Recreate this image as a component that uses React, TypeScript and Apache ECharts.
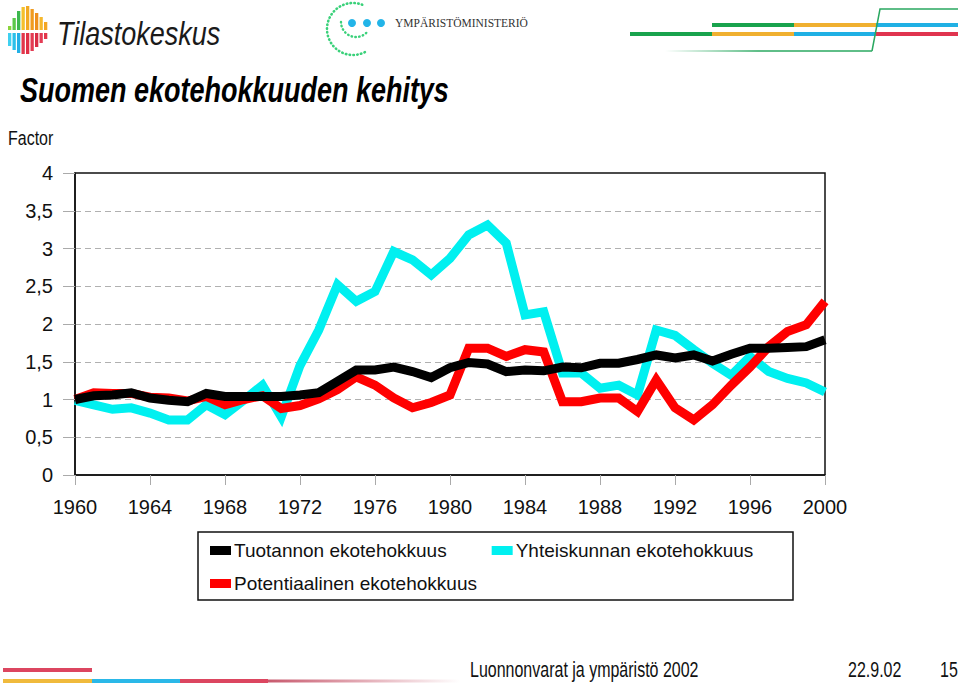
import React, { useEffect, useRef } from "react";
import * as echarts from "echarts";

const years: string[] = [];
for (let y = 1960; y <= 2000; y++) years.push(String(y));

const tuotannon = [
  1.0, 1.05, 1.06, 1.09, 1.02, 0.99, 0.97, 1.08, 1.04, 1.04,
  1.04, 1.04, 1.06, 1.09, 1.24, 1.39, 1.39, 1.43, 1.37, 1.29,
  1.42, 1.49, 1.47, 1.37, 1.39, 1.38, 1.43, 1.42, 1.48, 1.48,
  1.53, 1.59, 1.55, 1.59, 1.51, 1.6, 1.68, 1.68, 1.69, 1.7, 1.79,
];
const yhteiskunnan = [
  0.99, 0.93, 0.87, 0.89, 0.82, 0.73, 0.73, 0.93, 0.8, 0.99,
  1.19, 0.77, 1.45, 1.92, 2.52, 2.3, 2.43, 2.96, 2.85, 2.65,
  2.87, 3.18, 3.31, 3.07, 2.12, 2.16, 1.35, 1.35, 1.15, 1.19,
  1.06, 1.92, 1.85, 1.66, 1.48, 1.32, 1.57, 1.37, 1.28, 1.22, 1.1,
];
const potentiaalinen = [
  1.0, 1.09, 1.08, 1.08, 1.03, 1.02, 0.98, 1.04, 0.93, 1.0,
  1.05, 0.88, 0.92, 1.01, 1.13, 1.3, 1.19, 1.02, 0.89, 0.96,
  1.06, 1.68, 1.68, 1.57, 1.66, 1.63, 0.97, 0.97, 1.02, 1.02,
  0.84, 1.26, 0.89, 0.73, 0.93, 1.19, 1.43, 1.7, 1.9, 1.99, 2.3,
];

const names = [
  "Tuotannon ekotehokkuus",
  "Yhteiskunnan ekotehokkuus",
  "Potentiaalinen ekotehokkuus",
];
const colors = ["#000000", "#00f0f0", "#ff0000"];

const FONT = "'Liberation Sans', Arial, sans-serif";

function logoBars() {
  const xs = [8, 12.5, 17, 21.5, 26, 30.5, 35, 39.5, 44];
  const tops = [26, 18, 11, 7, 6, 9, 13, 17, 22];
  const bots = [46, 50, 53, 54, 54, 51, 47, 43, 39];
  const topCol = ["#8ad43c", "#5cc84a", "#3db84f", "#f4c02c", "#f2a922", "#f09b20", "#ee8f1e", "#f5b82d", "#f4a623"];
  const botCol = ["#3fd0f0", "#2bc0ea", "#22b0e6", "#e2364b", "#e02f46", "#e33b52", "#d92d45", "#e43c55", "#e2364b"];
  const els: any[] = [];
  xs.forEach((x, i) => {
    els.push({ type: "rect", shape: { x, y: tops[i], width: 3.3, height: 30 - tops[i] }, style: { fill: topCol[i] } });
    els.push({ type: "rect", shape: { x, y: 33, width: 3.3, height: bots[i] - 33 }, style: { fill: botCol[i] } });
  });
  return els;
}

export default function App() {
  const ref = useRef<HTMLDivElement>(null);
  useEffect(() => {
    if (!ref.current) return;
    const chart = echarts.init(ref.current, null, { renderer: "svg" });
    const seriesOrder = [1, 2, 0];
    const dataMap = [tuotannon, yhteiskunnan, potentiaalinen];
    const legendText = { fontSize: 19, color: "#111", fontFamily: FONT, padding: [0, 0, 0, -2] };
    chart.setOption({
      animation: false,
      backgroundColor: "#ffffff",
      grid: {
        left: 75,
        right: 135,
        top: 173,
        bottom: 211,
        show: true,
        borderColor: "#111",
        borderWidth: 1.5,
        backgroundColor: "transparent",
      },
      xAxis: {
        type: "category",
        data: years,
        boundaryGap: false,
        axisLine: { show: true, lineStyle: { color: "#111", width: 1.5 } },
        axisTick: { show: true, interval: 3, length: 10, lineStyle: { color: "#aaa", width: 1 } },
        axisLabel: { interval: 3, fontSize: 20, color: "#111", fontFamily: FONT, margin: 22 },
        splitLine: { show: false },
      },
      yAxis: {
        type: "value",
        min: 0,
        max: 4,
        interval: 0.5,
        axisLine: { show: true, lineStyle: { color: "#111", width: 1.5 } },
        axisTick: { show: true, length: 12, inside: false, lineStyle: { color: "#aaa", width: 1 } },
        axisLabel: {
          fontSize: 20,
          color: "#111",
          fontFamily: FONT,
          margin: 22,
          formatter: (v: number) => String(v).replace(".", ","),
        },
        splitLine: {
          show: true,
          showMinLine: false,
          showMaxLine: false,
          lineStyle: { color: "#b0b0b0", type: [6, 4], width: 1 },
        },
      },
      legend: [
        {
          data: [names[0], names[1]],
          left: 205,
          top: 536,
          itemWidth: 21,
          itemHeight: 9,
          itemGap: 45,
          icon: "rect",
          selectedMode: false,
          textStyle: legendText,
        },
        {
          data: [names[2]],
          left: 205,
          top: 569,
          itemWidth: 21,
          itemHeight: 9,
          icon: "rect",
          selectedMode: false,
          textStyle: legendText,
        },
      ],
      series: seriesOrder.map((i) => ({
        name: names[i],
        type: "line",
        data: dataMap[i],
        symbol: "none",
        z: 2 + seriesOrder.indexOf(i),
        lineStyle: { color: colors[i], width: 9, join: "miter" },
        itemStyle: { color: colors[i] },
      })),
      graphic: [
        ...logoBars(),
        {
          type: "text",
          x: 57,
          y: 33,
          scaleY: 1.25,
          style: {
            text: "Tilastokeskus",
            font: `italic 27px ${FONT}`,
            fill: "#1a1a1a",
            verticalAlign: "middle",
          },
        },
        {
          type: "arc",
          shape: { cx: 353, cy: 29, r: 26, startAngle: -Math.PI / 2.6, endAngle: Math.PI / 3.2, clockwise: false },
          style: { stroke: "#3ad17a", lineWidth: 2.6, lineDash: [0.5, 3.3], lineCap: "round", fill: "none" },
        },
        {
          type: "arc",
          shape: { cx: 356, cy: 22, r: 15, startAngle: Math.PI, endAngle: Math.PI / 5, clockwise: false },
          style: { stroke: "#3ad17a", lineWidth: 2.4, lineDash: [0.5, 3.3], lineCap: "round", fill: "none" },
        },
        { type: "circle", shape: { cx: 352, cy: 23, r: 4 }, style: { fill: "#22b4e8" } },
        { type: "circle", shape: { cx: 367, cy: 23, r: 4 }, style: { fill: "#22b4e8" } },
        { type: "circle", shape: { cx: 381, cy: 23, r: 4 }, style: { fill: "#22b4e8" } },
        {
          type: "text",
          x: 395,
          y: 23,
          style: {
            text: "YMPÄRISTÖMINISTERIÖ",
            font: "11.5px 'Liberation Serif', 'Times New Roman', serif",
            fill: "#333",
            verticalAlign: "middle",
          },
        },
        // top-right decoration
        { type: "line", shape: { x1: 712, y1: 25, x2: 794, y2: 25 }, style: { stroke: "#19a34d", lineWidth: 4 } },
        { type: "line", shape: { x1: 794, y1: 25, x2: 876, y2: 25 }, style: { stroke: "#f0b030", lineWidth: 4 } },
        { type: "line", shape: { x1: 876, y1: 25, x2: 958, y2: 25 }, style: { stroke: "#20b0e4", lineWidth: 4 } },
        { type: "line", shape: { x1: 630, y1: 34, x2: 712, y2: 34 }, style: { stroke: "#19a34d", lineWidth: 4 } },
        { type: "line", shape: { x1: 712, y1: 34, x2: 794, y2: 34 }, style: { stroke: "#f0b030", lineWidth: 4 } },
        { type: "line", shape: { x1: 794, y1: 34, x2: 876, y2: 34 }, style: { stroke: "#20b0e4", lineWidth: 4 } },
        { type: "line", shape: { x1: 876, y1: 34, x2: 958, y2: 34 }, style: { stroke: "#e0344f", lineWidth: 4 } },
        {
          type: "rect",
          shape: { x: 665, y: 50.2, width: 207, height: 1.6 },
          style: {
            fill: new echarts.graphic.LinearGradient(0, 0, 1, 0, [
              { offset: 0, color: "rgba(42,168,96,0)" },
              { offset: 0.45, color: "rgba(42,168,96,1)" },
              { offset: 1, color: "rgba(42,168,96,1)" },
            ]),
          },
        },
        {
          type: "polyline",
          shape: { points: [[872, 51], [880, 9], [958, 9]] },
          style: { stroke: "#2aa860", lineWidth: 1.5, fill: "none" },
        },
        {
          type: "text",
          x: 20,
          y: 90,
          scaleY: 1.3,
          style: {
            text: "Suomen ekotehokkuuden kehitys",
            font: `italic bold 27px ${FONT}`,
            fill: "#000",
            verticalAlign: "middle",
          },
        },
        {
          type: "text",
          x: 8,
          y: 138,
          scaleY: 1.3,
          style: { text: "Factor", font: `16px ${FONT}`, fill: "#111", verticalAlign: "middle" },
        },
        // legend box
        {
          type: "rect",
          shape: { x: 198, y: 532, width: 595, height: 68 },
          style: { stroke: "#111", lineWidth: 1.5, fill: "none" },
        },
        // bottom decoration
        { type: "line", shape: { x1: 3, y1: 670, x2: 92, y2: 670 }, style: { stroke: "#dc4660", lineWidth: 4 } },
        { type: "line", shape: { x1: 3, y1: 681, x2: 92, y2: 681 }, style: { stroke: "#f0ba3c", lineWidth: 4 } },
        { type: "line", shape: { x1: 92, y1: 681, x2: 180, y2: 681 }, style: { stroke: "#2ab8e8", lineWidth: 4 } },
        { type: "line", shape: { x1: 180, y1: 681, x2: 268, y2: 681 }, style: { stroke: "#dc4660", lineWidth: 4 } },
        {
          type: "rect",
          shape: { x: 268, y: 679.5, width: 192, height: 3 },
          style: {
            fill: new echarts.graphic.LinearGradient(0, 0, 1, 0, [
              { offset: 0, color: "rgba(200,90,110,1)" },
              { offset: 1, color: "rgba(200,90,110,0)" },
            ]),
          },
        },
        {
          type: "text",
          x: 470,
          y: 670,
          scaleY: 1.35,
          style: { text: "Luonnonvarat ja ympäristö 2002", font: `16px ${FONT}`, fill: "#111", verticalAlign: "middle" },
        },
        {
          type: "text",
          x: 848,
          y: 670,
          scaleY: 1.35,
          style: { text: "22.9.02", font: `16px ${FONT}`, fill: "#111", verticalAlign: "middle" },
        },
        {
          type: "text",
          x: 940,
          y: 670,
          scaleY: 1.35,
          style: { text: "15", font: `16px ${FONT}`, fill: "#111", verticalAlign: "middle" },
        },
      ],
    });
    return () => chart.dispose();
  }, []);
  return <div ref={ref} style={{ width: 960, height: 686, position: "absolute", left: 0, top: 0 }} />;
}
